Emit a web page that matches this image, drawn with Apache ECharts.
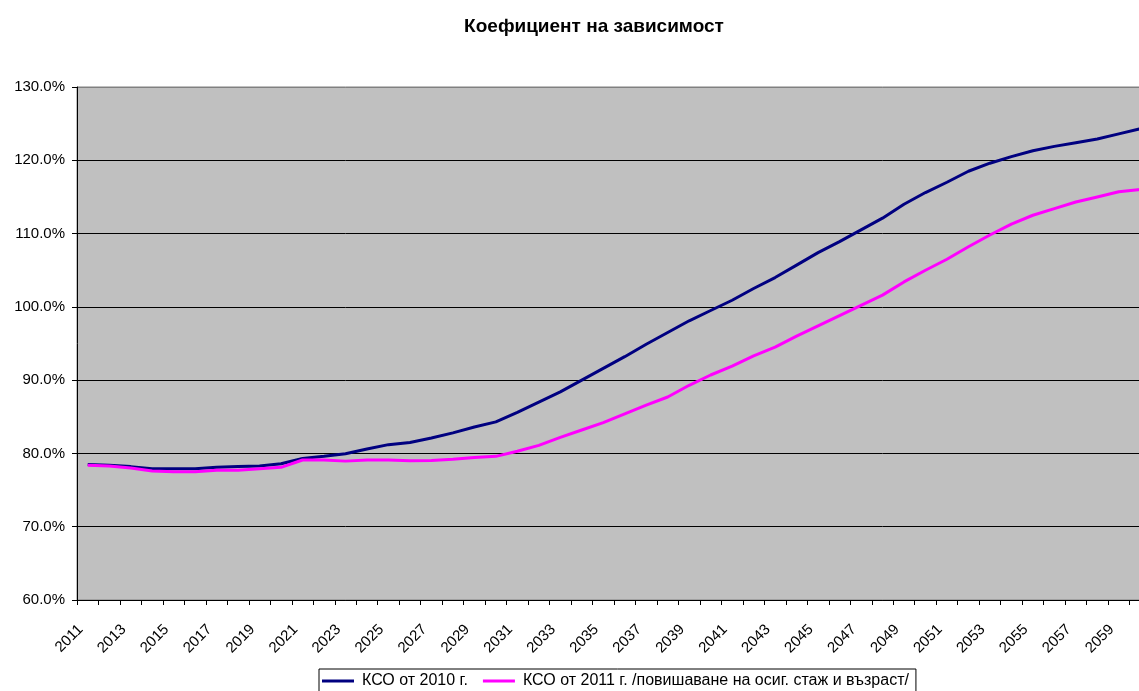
<!DOCTYPE html>
<html>
<head>
    <meta charset="utf-8"/>
    <title>ECharts</title>
    <script type="text/javascript" src="https://cdn.jsdelivr.net/npm/echarts@6/dist/echarts.min.js"></script>
    <style>
        html, body { margin: 0; padding: 0; background: #fff; overflow: hidden; }
        /* the plot runs a bit past the right edge of the window, like the original */
        #main { width: 1151px; height: 691px; }
    </style>
</head>
<body>
<div id="main"></div>
<script type="text/javascript">
    // години 2011 - 2060
    var years = [];
    for (var y = 2011; y <= 2060; y++) { years.push(String(y)); }

    // КСО от 2010 г.
    var kso2010 = [
        78.5, 78.4, 78.2, 77.9, 77.9, 77.9, 78.1, 78.2, 78.3, 78.6,
        79.3, 79.6, 79.95, 80.6, 81.2, 81.5, 82.1, 82.8, 83.6, 84.3,
        85.6, 87.0, 88.4, 90.0, 91.6, 93.2, 94.9, 96.5, 98.1, 99.5,
        100.9, 102.5, 104.0, 105.7, 107.4, 108.9, 110.5, 112.1, 114.0, 115.6,
        117.0, 118.5, 119.6, 120.5, 121.3, 121.9, 122.4, 122.9, 123.6, 124.3
    ];
    // КСО от 2011 г.
    var kso2011 = [
        78.4, 78.3, 78.0, 77.6, 77.5, 77.5, 77.7, 77.7, 77.9, 78.1,
        79.1, 79.1, 78.95, 79.1, 79.1, 79.0, 79.05, 79.2, 79.45, 79.6,
        80.3, 81.1, 82.2, 83.2, 84.2, 85.4, 86.6, 87.7, 89.3, 90.7,
        91.9, 93.3, 94.5, 96.0, 97.4, 98.8, 100.2, 101.6, 103.4, 105.0,
        106.5, 108.2, 109.8, 111.3, 112.5, 113.4, 114.3, 115.0, 115.7, 116.0
    ];

    var font = '"Liberation Sans", Arial, sans-serif';
    var myChart = echarts.init(document.getElementById('main'));
    var option = {
        animation: false,
        backgroundColor: '#ffffff',
        title: {
            text: 'Коефициент на зависимост',
            left: 589,
            top: 12,
            textAlign: 'center',
            textStyle: { fontFamily: font, fontSize: 19, fontWeight: 'bold', color: '#000' }
        },
        legend: {
            data: ['КСО от 2010 г.', 'КСО от 2011 г. /повишаване на осиг. стаж и възраст/'],
            left: 319,
            top: 669,
            orient: 'horizontal',
            icon: 'rect',
            itemWidth: 32,
            itemHeight: 3,
            itemGap: 15,
            padding: [4, 7, 6, 3],
            borderColor: '#000',
            borderWidth: 1,
            backgroundColor: '#fff',
            textStyle: { fontFamily: font, fontSize: 16, color: '#000', padding: [0, 0, 0, 3] }
        },
        grid: {
            left: 77,
            right: 0,
            top: 87,
            bottom: 91,
            show: true,
            backgroundColor: '#c0c0c0',
            borderColor: '#808080',
            borderWidth: 1
        },
        xAxis: {
            type: 'category',
            data: years,
            boundaryGap: true,
            axisLine: { lineStyle: { color: '#000', width: 1 } },
            axisTick: { show: true, interval: 0, length: 5, lineStyle: { color: '#000' } },
            axisLabel: {
                interval: 1,
                rotate: 45,
                margin: 20,
                padding: [0, 10, 0, 0],
                fontFamily: font,
                fontSize: 15,
                color: '#000'
            },
            splitLine: { show: false }
        },
        yAxis: {
            type: 'value',
            min: 60,
            max: 130,
            interval: 10,
            axisLine: { show: true, lineStyle: { color: '#000', width: 1 } },
            axisTick: { show: true, length: 5, lineStyle: { color: '#000' } },
            axisLabel: {
                margin: 12,
                fontFamily: font,
                fontSize: 15,
                color: '#000',
                formatter: function (v) { return v.toFixed(1) + '%'; }
            },
            splitLine: {
                show: true,
                lineStyle: { color: ['#000', '#000', '#000', '#000', '#000', '#000', '#000', '#808080'], width: 1 }
            }
        },
        series: [
            {
                name: 'КСО от 2010 г.',
                type: 'line',
                data: kso2010,
                showSymbol: false,
                symbol: 'none',
                lineStyle: { color: '#000080', width: 3 },
                itemStyle: { color: '#000080' }
            },
            {
                name: 'КСО от 2011 г. /повишаване на осиг. стаж и възраст/',
                type: 'line',
                data: kso2011,
                showSymbol: false,
                symbol: 'none',
                lineStyle: { color: '#ff00ff', width: 3 },
                itemStyle: { color: '#ff00ff' }
            }
        ]
    };
    myChart.setOption(option);
</script>
</body>
</html>
